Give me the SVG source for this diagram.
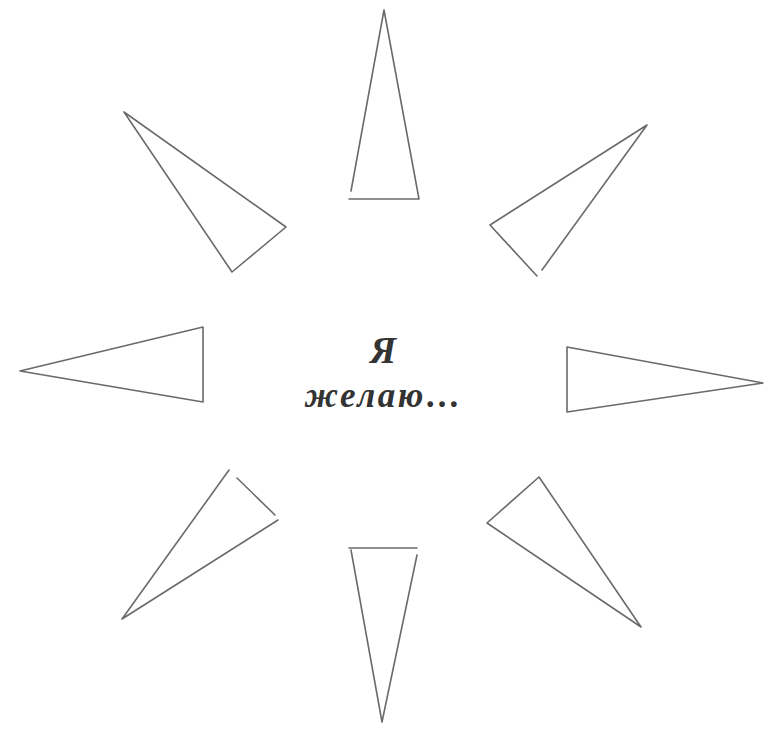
<svg xmlns="http://www.w3.org/2000/svg" width="769" height="730" viewBox="0 0 769 730">
<style>
.l{fill:none;stroke:#6a6a6a;stroke-width:1.6;stroke-linecap:round;stroke-linejoin:round}
.t{font-family:"Liberation Serif","DejaVu Serif",serif;font-weight:bold;font-style:italic;fill:#333;text-anchor:middle}
</style>
<rect width="769" height="730" fill="#fff"/>
<g id="top"><path class="l" d="M351,191 L384,10 L419,199 M349,199 L419,199"/></g>
<g id="top-left"><path class="l" d="M124,112 L286,227 L232,272 Z"/></g>
<g id="top-right"><path class="l" d="M537,276 L490,225 L647,125 L542,270"/></g>
<g id="left"><path class="l" d="M20,371 L203,327 L203,402 Z"/></g>
<g id="right"><path class="l" d="M567,347 L567,412 L763,383 Z"/></g>
<g id="bottom-left"><path class="l" d="M229,470 L122,619 L278,520 M237,478 L275,515"/></g>
<g id="bottom-right"><path class="l" d="M539,477 L487,523 L641,627 Z"/></g>
<g id="bottom"><path class="l" d="M349,548 L417,548 M351,550 L382,722 L417,555"/></g>
<g id="label">
<text class="t" x="383" y="363" font-size="38">Я</text>
<text class="t" x="384" y="407" font-size="35" letter-spacing="2.5">желаю…</text>
</g>
</svg>
